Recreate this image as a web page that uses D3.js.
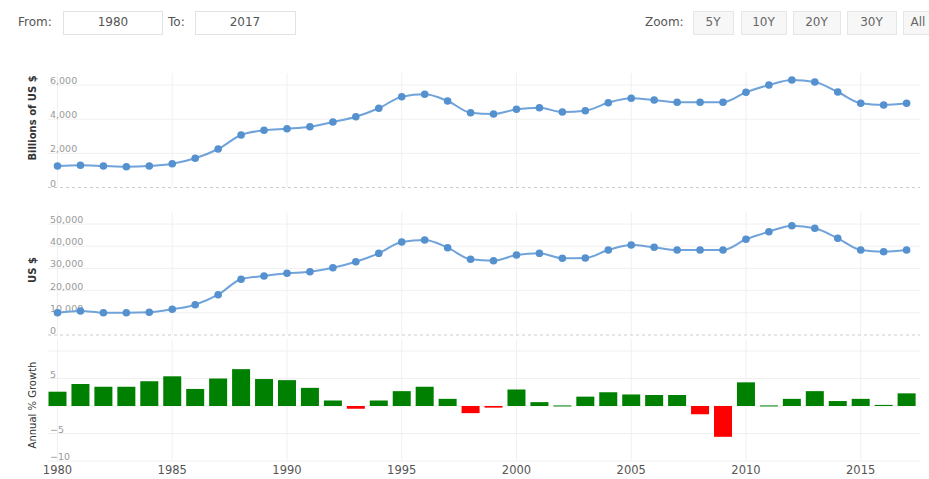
<!DOCTYPE html>
<html><head><meta charset="utf-8">
<script src="https://cdn.jsdelivr.net/npm/d3@7"></script>
<style>body{margin:0;background:#fff}svg{display:block;font-family:"DejaVu Sans",Verdana,sans-serif}</style>
</head><body><svg id="c" width="929" height="479"></svg>
<script>
const years = d3.range(1980, 2018);
const gdpBillions = [1259,1300,1259,1218,1259,1393,1710,2254,3074,3349,3443,3560,3835,4145,4637,5316,5457,5064,4379,4303,4578,4672,4420,4496,4965,5222,5123,4988,4988,4988,5574,6001,6294,6177,5591,4930,4830,4930];
const gdpPerCapita = [10045,10811,10045,10045,10225,11577,13649,18153,25090,26577,27793,28514,30315,33018,36802,41892,42793,39324,34099,33468,36036,36802,34550,34685,38288,40541,39505,38288,38288,38288,43108,46532,49234,48063,43559,38288,37523,38288];
const growthPct = [2.6,4.0,3.5,3.5,4.5,5.4,3.1,5.0,6.7,4.9,4.7,3.3,1.0,-0.5,1.0,2.7,3.5,1.3,-1.3,-0.3,3.0,0.7,0.1,1.7,2.5,2.1,2.0,2.0,-1.5,-5.6,4.3,0.1,1.3,2.7,0.9,1.3,0.2,2.3];
const xTicks = [1980,1985,1990,1995,2000,2005,2010,2015];
const topTicks = [0,2000,4000,6000];
const midTicks = [0,10000,20000,30000,40000,50000];
const botTicks = [-10,-5,0,5,10];
const zoomButtons = ["5Y","10Y","20Y","30Y","All"];
const fromYear = "1980", toYear = "2017";

const svg = d3.select("#c");
const L = 48, R = 920;
const x = d3.scaleLinear().domain([1980, 2017]).range([57.5, 906.6]);
const yTop = d3.scaleLinear().domain([0, 6000]).range([187.5, 85]);
const yMid = d3.scaleLinear().domain([0, 50000]).range([335, 224]);
const yBot = d3.scaleLinear().domain([-10, 10]).range([461, 351]);

// controls
const ctl = svg.append("g").attr("font-size", 12).attr("fill", "#555");
ctl.append("text").attr("x", 18).attr("y", 26).text("From:");
ctl.append("rect").attr("x", 63.5).attr("y", 11.5).attr("width", 99).attr("height", 23).attr("fill", "#fff").attr("stroke", "#e3e3e3");
ctl.append("text").attr("x", 113).attr("y", 26).attr("text-anchor", "middle").text(fromYear);
ctl.append("text").attr("x", 168).attr("y", 26).text("To:");
ctl.append("rect").attr("x", 195.5).attr("y", 11.5).attr("width", 100).attr("height", 23).attr("fill", "#fff").attr("stroke", "#e3e3e3");
ctl.append("text").attr("x", 245).attr("y", 26).attr("text-anchor", "middle").text(toYear);
ctl.append("text").attr("x", 645).attr("y", 26).text("Zoom:");
const bx = [693, 741, 793, 847, 903], bw = [40, 45, 47, 49, 30];
zoomButtons.forEach((b, i) => {
  ctl.append("rect").attr("x", bx[i] + .5).attr("y", 11.5).attr("width", bw[i]).attr("height", 23).attr("fill", "#f7f7f7").attr("stroke", "#e6e6e6");
  ctl.append("text").attr("x", bx[i] + bw[i] / 2).attr("y", 26).attr("text-anchor", "middle").attr("fill", "#666").text(b);
});

// grids
function panel(y, ticks, fmt, y0, dashed) {
  const g = svg.append("g");
  g.selectAll(".v").data(xTicks).join("line").attr("x1", d => x(d)).attr("x2", d => x(d))
    .attr("y1", y.range()[1] - 12).attr("y2", y.range()[0]).attr("stroke", "#f0f0f0");
  g.selectAll(".h").data(ticks.filter(t => !(dashed && t === y0))).join("line").attr("x1", L).attr("x2", R)
    .attr("y1", d => y(d)).attr("y2", d => y(d)).attr("stroke", "#f0f0f0");
  if (dashed) g.append("line").attr("x1", L).attr("x2", R).attr("y1", y(y0)).attr("y2", y(y0))
    .attr("stroke", "#cccccc").attr("stroke-dasharray", "3,3");
  g.selectAll(".t").data(ticks.filter(t => t !== 10)).join("text")
    .attr("x", 50).attr("y", d => y(d) - 1).attr("font-size", 9.5).attr("fill", "#9a9a9a").text(d => fmt(d));
  return g;
}
panel(yTop, topTicks, d3.format(","), 0, true);
panel(yMid, midTicks, d3.format(","), 0, true);
panel(yBot, botTicks, d3.format(""), -10, false);

// lines
function series(y, vals) {
  const line = d3.line().x((d, i) => x(years[i])).y(d => y(d)).curve(d3.curveMonotoneX);
  svg.append("path").attr("d", line(vals)).attr("fill", "none").attr("stroke", "#6fa3da").attr("stroke-width", 2);
  svg.selectAll(null).data(vals).join("circle").attr("cx", (d, i) => x(years[i])).attr("cy", d => y(d))
    .attr("r", 3.8).attr("fill", "#5590cf");
}
series(yTop, gdpBillions);
series(yMid, gdpPerCapita);

// bars
const bwid = 18;
svg.selectAll(null).data(growthPct).join("rect")
  .attr("x", (d, i) => x(years[i]) - bwid / 2).attr("width", bwid)
  .attr("y", d => d >= 0 ? yBot(d) : yBot(0))
  .attr("height", d => Math.max(1, Math.abs(yBot(d) - yBot(0))))
  .attr("fill", d => d >= 0 ? "#008000" : "#ff0000");

// x axis labels
svg.selectAll(null).data(xTicks).join("text").attr("x", d => x(d)).attr("y", 474)
  .attr("text-anchor", "middle").attr("font-size", 11.5).attr("fill", "#555").text(d => d);

// axis titles
function ytitle(cy, t, bold) {
  svg.append("text").attr("transform", `translate(36,${cy}) rotate(-90)`).attr("text-anchor", "middle")
    .attr("font-size", 10).attr("font-weight", bold ? "bold" : "normal").attr("fill", "#333").text(t);
}
ytitle(118, "Billions of US $", true);
ytitle(270, "US $", true);
ytitle(405, "Annual % Growth", false);
</script></body></html>
